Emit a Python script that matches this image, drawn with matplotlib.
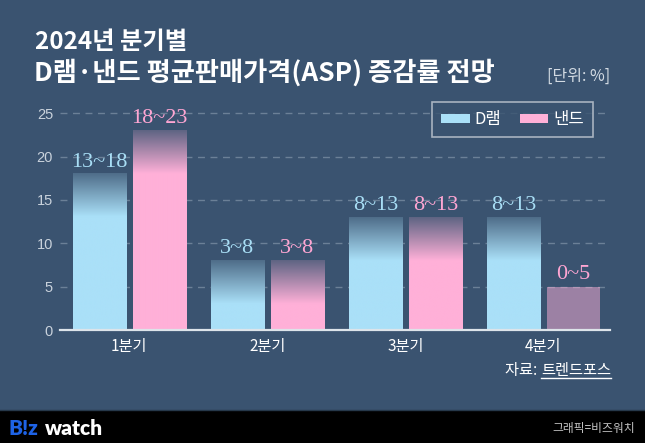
import numpy as np
import matplotlib
matplotlib.use("Agg")
import matplotlib.pyplot as plt
from matplotlib.patches import Patch, Rectangle
from matplotlib.lines import Line2D
from matplotlib.colors import to_rgb

plt.rcParams['font.family'] = ['Noto Sans CJK KR', 'DejaVu Sans']

# ---- data ----
categories = ['1분기', '2분기', '3분기', '4분기']
dram_low = [13, 3, 8, 8]
dram_high = [18, 8, 13, 13]
nand_low = [18, 3, 8, 0]
nand_high = [23, 8, 13, 5]
series_names = ['D램', '낸드']
yticks = [0, 5, 10, 15, 20, 25]

title1 = '2024년 분기별'
title2 = 'D램·낸드 평균판매가격(ASP) 증감률 전망'
unit_text = '[단위: %]'
source_prefix = '자료: '
source_name = '트렌드포스'

# ---- style ----
BG = '#3a5370'
BLUE = '#aae0f8'
PINK = '#ffb0d8'
BLUE_TXT = '#a8def5'
PINK_TXT = '#ffa6d3'
GRID = '#6b8097'

W, H = 645, 443
fig = plt.figure(figsize=(W / 100, H / 100), dpi=100)
fig.patch.set_facecolor(BG)

def fx(x):
    return x / W

def fy(y):
    return 1 - y / H

ax_left, ax_right, ax_bottom, ax_top = 60, 610, 330, 100
ax = fig.add_axes([fx(ax_left), fy(ax_bottom), (ax_right - ax_left) / W, (ax_bottom - ax_top) / H])
ax.set_facecolor(BG)
px_per_unit = (330 - 113.3) / 25.0
ymax = (ax_bottom - ax_top) / px_per_unit

bar_w = 0.386
off = 0.217
x = np.arange(len(categories))

bg_rgb = np.array(to_rgb(BG))

def draw_bar(xc, low, high, color):
    c = np.array(to_rgb(color))
    x0, x1 = xc - bar_w / 2, xc + bar_w / 2
    if low == 0:
        ax.bar(xc, high, width=bar_w, color=color, alpha=0.5, zorder=2, linewidth=0)
        return
    n = 600
    yv = (np.arange(n) + 0.5) / n * high
    a = np.where(yv <= low, 1.0, 1.0 - (yv - low) / (high - low) * 0.82)
    img = bg_rgb[None, :] * (1 - a[:, None]) + c[None, :] * a[:, None]
    img = img[:, None, :]
    ax.imshow(img, extent=[x0, x1, 0, high], origin='lower', aspect='auto',
              interpolation='bilinear', zorder=2)

for i in range(len(categories)):
    draw_bar(x[i] - off, dram_low[i], dram_high[i], BLUE)
    draw_bar(x[i] + off, nand_low[i], nand_high[i], PINK)
    for xc, lo, hi, col in [(x[i] - off, dram_low[i], dram_high[i], BLUE_TXT),
                             (x[i] + off, nand_low[i], nand_high[i], PINK_TXT)]:
        ax.annotate(f'{lo}~{hi}', (xc, hi), xytext=(0, 5.3), textcoords='offset points',
                    ha='center', va='baseline', fontsize=16, color=col,
                    family=['Liberation Serif', 'DejaVu Serif'], zorder=4)

ax.set_xlim(-0.502, 3.483)
ax.set_ylim(0, ymax)
ax.set_yticks(yticks)
ax.set_yticklabels([str(v) for v in yticks])
ax.set_xticks(x)
ax.set_xticklabels(categories)
ax.tick_params(axis='y', length=0, pad=5, labelsize=10.5, labelcolor='#c9d2dc')
ax.tick_params(axis='x', length=0, pad=6, labelsize=11, labelcolor='white')
for lbl in ax.get_yticklabels():
    lbl.set_fontfamily(['Liberation Sans', 'DejaVu Sans'])

for s in ['top', 'right', 'left']:
    ax.spines[s].set_visible(False)
ax.spines['bottom'].set_color('#dde4ea')
ax.spines['bottom'].set_linewidth(1.6)
ax.spines['bottom'].set_zorder(5)

ax.yaxis.grid(True, color=GRID, linewidth=1.0, linestyle=(0, (5, 4)))
ax.set_axisbelow(True)
ax.xaxis.grid(False)

# legend
handles = [Patch(facecolor=BLUE, edgecolor='none'), Patch(facecolor=PINK, edgecolor='none')]
leg = ax.legend(handles, series_names, loc='upper right',
                bbox_to_anchor=(fx(593), fy(102)), bbox_transform=fig.transFigure,
                ncol=2, frameon=True, fancybox=False, fontsize=12,
                handlelength=1.7, handleheight=0.42, handletextpad=0.3,
                columnspacing=1.1, borderpad=0.55, borderaxespad=0)
leg.get_frame().set_facecolor(BG)
leg.get_frame().set_edgecolor('#c3cbd4')
leg.get_frame().set_linewidth(1.2)
for t in leg.get_texts():
    t.set_color('white')
    t.set_fontweight('medium')

# titles
fig.text(fx(35), fy(49), title1, fontsize=17.5, fontweight='black', color='white',
         ha='left', va='baseline')
fig.text(fx(34), fy(80.5), title2, fontsize=18.9, fontweight='black', color='white',
         ha='left', va='baseline')
fig.text(fx(610), fy(81), unit_text, fontsize=11.5, color='#d3dbe3', ha='right', va='baseline')

# source
t_src = fig.text(fx(611), fy(375), source_name, fontsize=11, color='white',
                 fontweight='medium', ha='right', va='baseline')
fig.canvas.draw()
bb = t_src.get_window_extent()
fig.text(bb.x0 / W, fy(375), source_prefix, fontsize=11, color='white',
         fontweight='medium', ha='right', va='baseline')
fig.add_artist(Line2D([bb.x0 / W, bb.x1 / W], [fy(377.5), fy(377.5)],
                      transform=fig.transFigure, color='white', linewidth=1.0))

# bottom band
fig.add_artist(Rectangle((0, 0), 1, 33 / H, transform=fig.transFigure,
                         facecolor='black', edgecolor='none', zorder=0))
fig.add_artist(Line2D([0, 1], [33 / H, 33 / H], transform=fig.transFigure,
                      color='#26384a', linewidth=1.0))
fig.text(fx(8), fy(435), 'B!z', fontsize=15, fontweight='heavy', color='#1e63e6',
         family=['Lato', 'DejaVu Sans'], ha='left', va='baseline')
fig.text(fx(45), fy(435), 'watch', fontsize=15, fontweight='heavy', color='white',
         family=['Lato', 'DejaVu Sans'], ha='left', va='baseline')
fig.text(fx(635), fy(432), '그래픽=비즈워치', fontsize=8.5, color='#c4c4c4',
         ha='right', va='baseline')

fig.savefig('out.png', dpi=100, facecolor=BG)
